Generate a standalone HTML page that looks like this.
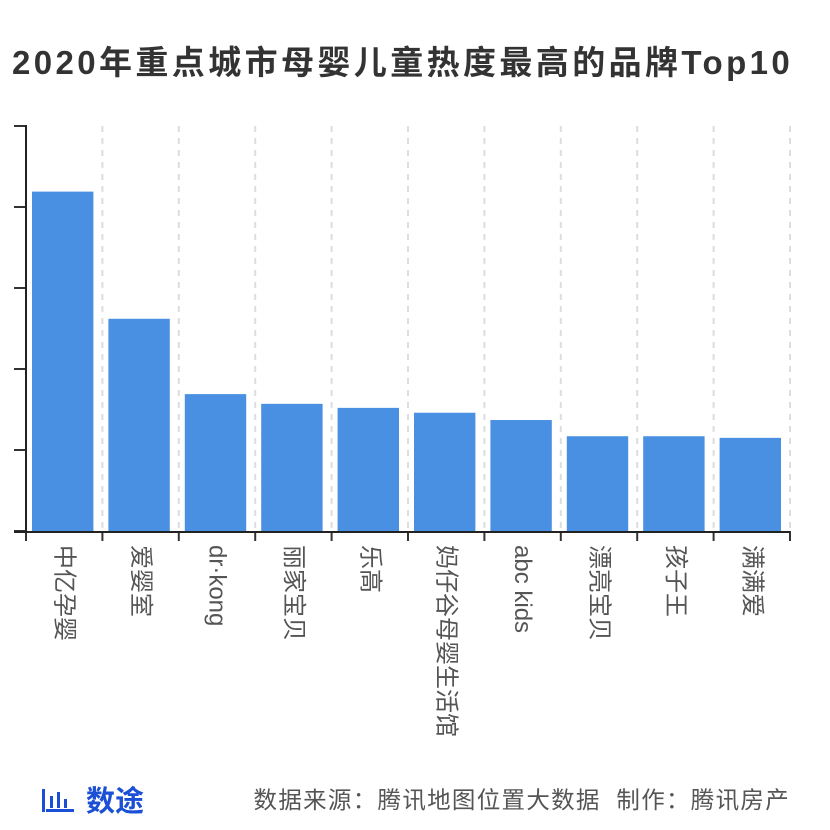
<!DOCTYPE html>
<html><head><meta charset="utf-8"><style>
body{margin:0;width:830px;height:830px;background:#fff;overflow:hidden;font-family:"Liberation Sans","Noto Sans CJK SC",sans-serif;}
#title{position:absolute;left:12px;top:36px;font-size:33px;letter-spacing:3.4px;font-weight:bold;color:#333;white-space:nowrap;}
#src{position:absolute;right:40px;top:781px;font-size:23.5px;letter-spacing:1.3px;color:#555;white-space:nowrap;}
#logo{position:absolute;left:40px;top:778px;font-size:29px;font-weight:bold;color:#1a4fd6;}
</style></head><body>
<div id="title">2020年重点城市母婴儿童热度最高的品牌Top10</div>
<svg id="chart" width="830" height="830" style="position:absolute;left:0;top:0"></svg>
<div id="logo"><svg width="38" height="28" style="vertical-align:-3px"><rect x="2" y="3" width="3" height="23" fill="#1a4fd6"/><rect x="10" y="10" width="3" height="12" fill="#1a4fd6"/><rect x="17" y="6" width="3" height="16" fill="#1a4fd6"/><rect x="24" y="13" width="3" height="9" fill="#1a4fd6"/><rect x="6" y="23" width="28" height="3" fill="#1a4fd6"/></svg> 数途</div>
<div id="src">数据来源：腾讯地图位置大数据&nbsp;&nbsp;制作：腾讯房产</div>
<script>
const categories=["中亿孕婴","爱婴室","dr·kong","丽家宝贝","乐高","妈仔谷母婴生活馆","abc kids","漂亮宝贝","孩子王","满满爱"];
const values=[4.19,2.62,1.69,1.57,1.52,1.46,1.37,1.17,1.17,1.15];
const yTicks=[0,1,2,3,4,5];
const NS="http://www.w3.org/2000/svg";
const svg=document.getElementById('chart');
const x0=26,x1=790,y0=531,y1=126,yMax=5;
const band=(x1-x0)/categories.length;
const xs=i=>x0+i*band;
const ys=v=>y0-(v/yMax)*(y0-y1);
function mk(t,a){const e=document.createElementNS(NS,t);for(const k in a)e.setAttribute(k,a[k]);svg.appendChild(e);return e;}
for(let i=1;i<=categories.length;i++){
  const g=mk('line',{x1:xs(i),x2:xs(i),y1:y1,y2:y0,stroke:'#ddd','stroke-width':2,'stroke-dasharray':'6,6'});
  
  
}
values.forEach((v,i)=>{
  const r=mk('rect',{x:xs(i)+6,y:ys(v),width:band-15,height:y0-ys(v),fill:'#4a90e2'});
  
  
  const cx=xs(i)+band/2;
  const t=mk('text',{x:cx,y:545,'font-size':24,fill:'#555',transform:`rotate(90 ${cx} 545)`,'dominant-baseline':'central','font-family':'"Liberation Sans","Noto Sans CJK SC",sans-serif'});
  t.textContent=categories[i];
  
  
});
yTicks.forEach(v=>{
  const l=mk('line',{x1:14,x2:x0,y1:ys(v),y2:ys(v),stroke:'#333','stroke-width':2});
  
  
});
for(let i=0;i<=categories.length;i++){
  const l=mk('line',{x1:xs(i),x2:xs(i),y1:y0,y2:y0+10,stroke:'#333','stroke-width':2});
  
  
}
const ya=mk('line',{x1:x0,x2:x0,y1:y1-1,y2:y0+1,stroke:'#222','stroke-width':2});


const xa=mk('line',{x1:14,x2:x1,y1:y0+1,y2:y0+1,stroke:'#222','stroke-width':2});


</script>
</body></html>
